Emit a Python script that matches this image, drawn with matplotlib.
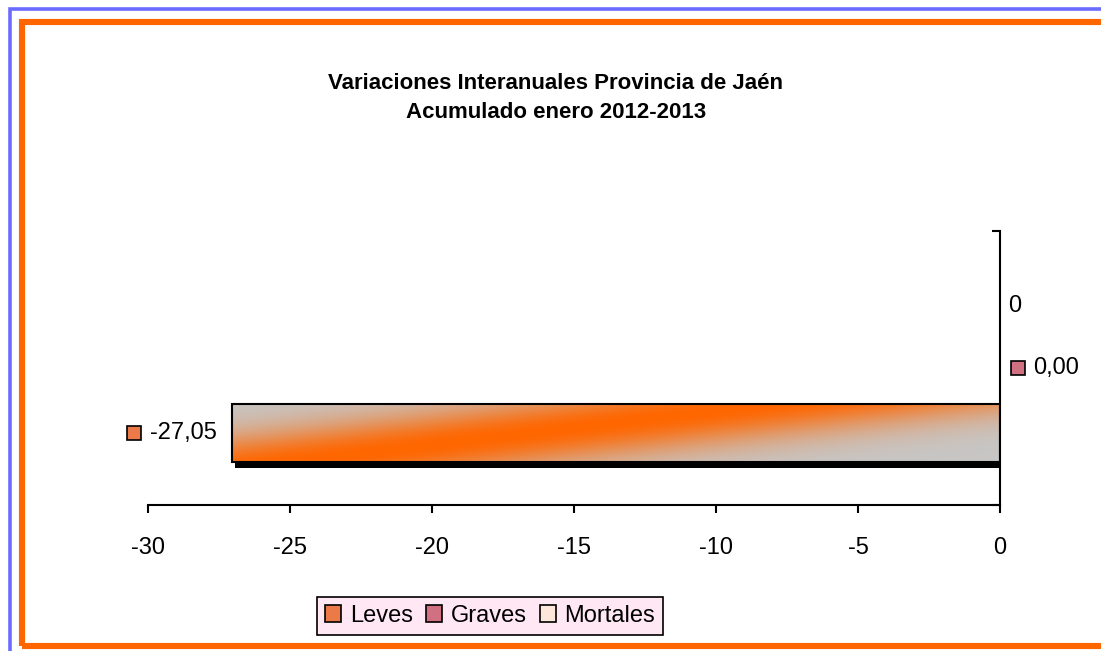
import numpy as np
import matplotlib
matplotlib.use("Agg")
import matplotlib.pyplot as plt
from matplotlib.patches import Rectangle, Patch
from matplotlib.transforms import offset_copy
from matplotlib.offsetbox import DrawingArea, TextArea, HPacker, AnnotationBbox

plt.rcParams["font.family"] = ["Liberation Sans", "DejaVu Sans"]

# data
series = ["Leves", "Graves", "Mortales"]
values = [-27.05, 0.00, np.nan]
category = ["0"]
xticks = [-30, -25, -20, -15, -10, -5, 0]
title = "Variaciones Interanuales Provincia de Jaén\nAcumulado enero 2012-2013"

key_colors = ["#EC7A48", "#D07080", "#FFE6DA"]
orange = np.array([1.0, 0.4, 0.0])
gray = np.array([0.78, 0.78, 0.78])

fig = plt.figure(figsize=(11.01, 6.51), dpi=100)
W, H = 1101, 651

# page borders
fig.patches.append(Rectangle((9.5 / W, -0.05), 1.1, 1 - 9.5 / H + 0.05, transform=fig.transFigure,
                             fill=False, edgecolor="#6B6BFF", linewidth=2.6))
fig.patches.append(Rectangle((22 / W, 1 - 646 / H), 1.1, (646 - 22) / H, transform=fig.transFigure,
                             fill=False, edgecolor="#FF6600", linewidth=4.4))

ax = fig.add_axes([148 / W, 1 - 505 / H, 852 / W, 274 / H])

offsets = (np.arange(len(series)) - 1) * 0.237
bar_h = 0.212
ypos = 0 + offsets

shadow_tr = offset_copy(ax.transData, fig=fig, x=3, y=-6, units="dots")
for i, v in enumerate(values):
    if np.isnan(v) or v == 0:
        continue
    ax.barh(ypos[i], v, height=bar_h, color="black", transform=shadow_tr, zorder=1)
    bar = ax.barh(ypos[i], v, height=bar_h, facecolor="none", edgecolor="black", linewidth=1.5, zorder=3)[0]
    # diagonal gradient fill
    x0, x1 = sorted([bar.get_x(), bar.get_x() + bar.get_width()])
    y0, y1 = bar.get_y(), bar.get_y() + bar.get_height()
    u = np.linspace(0, 1, 400)[None, :]
    vv = np.linspace(0, 1, 60)[:, None]
    vc = 1.6 * u - 0.13
    w = np.exp(-((vv - vc) / 0.6) ** 2)
    img = gray * (1 - w[..., None]) + orange * w[..., None]
    im = ax.imshow(img, extent=(x0, x1, y0, y1), origin="lower", aspect="auto",
                   interpolation="bilinear", zorder=2)
    im.set_clip_path(bar)

# data labels
for i, v in enumerate(values):
    if np.isnan(v):
        continue
    da = DrawingArea(10, 10, 0, 0)
    da.add_artist(Rectangle((0, 0), 10, 10, facecolor=key_colors[i], edgecolor="black", linewidth=1.2))
    txt = TextArea(f"{v:.2f}".replace(".", ","), textprops=dict(fontsize=17))
    box = HPacker(children=[da, txt], align="center", pad=0, sep=6)
    if v < 0:
        ab = AnnotationBbox(box, (v, ypos[i]), xybox=(-11, 0), boxcoords="offset points",
                            box_alignment=(1, 0.5), frameon=False, pad=0)
    else:
        ab = AnnotationBbox(box, (v, ypos[i]), xybox=(8, 0), boxcoords="offset points",
                            box_alignment=(0, 0.5), frameon=False, pad=0)
    ax.add_artist(ab)

ax.set_xlim(-30, 0)
ax.set_ylim(-0.5, 0.5)
ax.set_xticks(xticks)
ax.set_xticklabels([str(t) for t in xticks], fontsize=17)
ax.tick_params(axis="x", direction="out", length=6, width=1.5, pad=17)

ax.yaxis.tick_right()
ax.set_yticks([ypos[2]])
ax.set_yticklabels(category, fontsize=17)
ax.set_yticks([-0.5, 0.5], minor=True)
ax.tick_params(axis="y", which="major", length=0, pad=6)
ax.tick_params(axis="y", which="minor", direction="in", length=6, width=1.5)

for s in ["left", "top"]:
    ax.spines[s].set_visible(False)
for s in ["bottom", "right"]:
    ax.spines[s].set_linewidth(1.5)
ax.patch.set_alpha(0)

fig.text(556 / W, 1 - 98 / H, title, ha="center", va="center", fontsize=16,
         fontweight="bold", linespacing=1.45)

handles = [Patch(facecolor=c, edgecolor="black", linewidth=1.2) for c in key_colors]
leg = fig.legend(handles, series, loc="center", bbox_to_anchor=(490 / W, 1 - 616 / H),
                 bbox_transform=fig.transFigure, ncol=3, fontsize=17, frameon=True,
                 fancybox=False, edgecolor="black", facecolor="#FFE8F3", framealpha=1,
                 handlelength=0.7, handleheight=0.7, handletextpad=0.35,
                 columnspacing=0.55, borderpad=0.35)
leg.get_frame().set_linewidth(1.2)

fig.savefig("out.png", dpi=100)
